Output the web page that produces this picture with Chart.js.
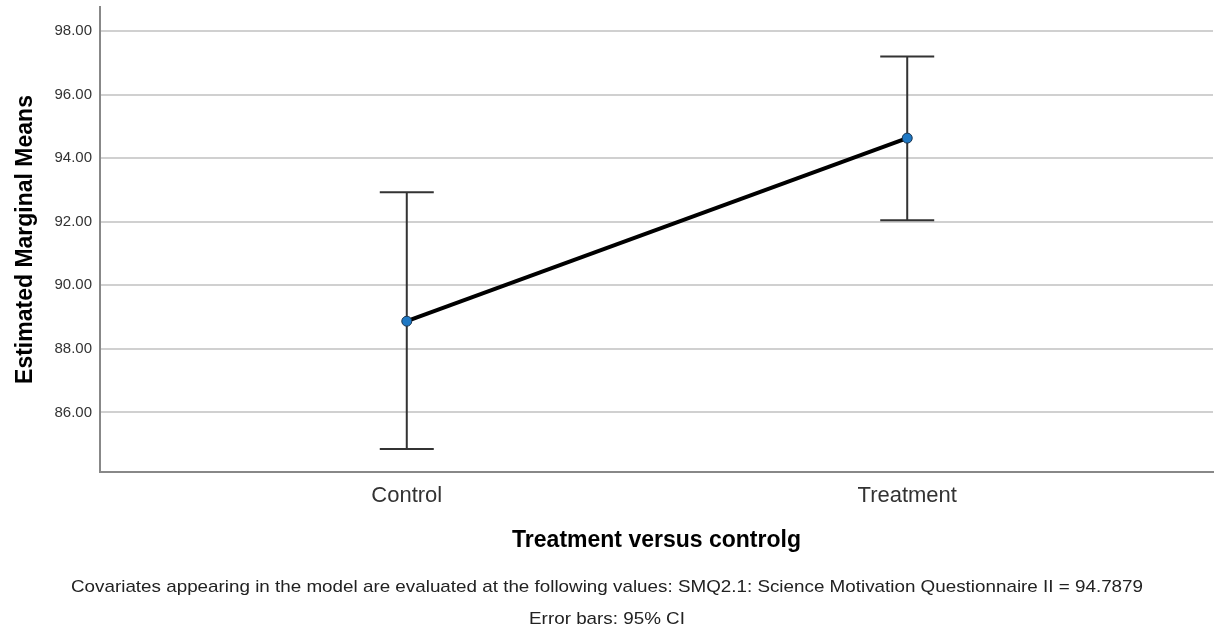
<!DOCTYPE html>
<html>
<head>
<meta charset="utf-8">
<script src="https://cdn.jsdelivr.net/npm/chart.js@4/dist/chart.umd.min.js"></script>
<style>
  html, body { margin: 0; padding: 0; background: #fff; }
  #wrap { width: 1214px; height: 628px; }
</style>
</head>
<body>
<div id="wrap"><canvas id="chart"></canvas></div>
<script>
// values
const groups = ['Control', 'Treatment'];
const means = [88.87, 94.63];
const ciLower = [84.85, 92.05];
const ciUpper = [92.93, 97.20];
const yTicks = [86, 88, 90, 92, 94, 96, 98];
const footNotes = [
    'Covariates appearing in the model are evaluated at the following values: SMQ2.1: Science Motivation Questionnaire II = 94.7879',
    'Error bars: 95% CI'
];

const FONT = "'Liberation Sans', Arial, sans-serif";

// 95% CI whiskers, drawn under the line
const errorBars = {
    id: 'errorBars',
    beforeDatasetsDraw(chart) {
        const {ctx, scales: {x, y}} = chart;
        ctx.save();
        ctx.strokeStyle = '#333';
        ctx.lineWidth = 2;
        groups.forEach((g, i) => {
            const px = x.getPixelForValue(i + 1);
            const top = y.getPixelForValue(ciUpper[i]);
            const bot = y.getPixelForValue(ciLower[i]);
            ctx.beginPath();
            ctx.moveTo(px, top); ctx.lineTo(px, bot);
            ctx.moveTo(px - 27, top); ctx.lineTo(px + 27, top);
            ctx.moveTo(px - 27, bot); ctx.lineTo(px + 27, bot);
            ctx.stroke();
        });
        ctx.restore();
    }
};

// notes under the chart, centred on the page
const footer = {
    id: 'footer',
    afterDraw(chart) {
        const ctx = chart.ctx;
        const cx = chart.width / 2;
        ctx.save();
        ctx.fillStyle = '#222';
        ctx.textAlign = 'center';
        ctx.textBaseline = 'middle';
        ctx.font = '17px ' + FONT;
        const w = ctx.measureText(footNotes[0]).width;
        const sx = 1072 / w;
        ctx.translate(cx, 0);
        ctx.scale(sx, 1);
        ctx.fillText(footNotes[0], 0, 587);
        ctx.fillText(footNotes[1], 0, 619);
        ctx.restore();
    }
};

new Chart(document.getElementById('chart'), {
    type: 'line',
    data: {
        datasets: [{
            data: groups.map((g, i) => ({x: i + 1, y: means[i]})),
            borderColor: '#000',
            borderWidth: 4,
            pointRadius: 5,
            pointBackgroundColor: '#1f78c4',
            pointBorderColor: '#1b3550',
            pointBorderWidth: 1
        }]
    },
    options: {
        responsive: true,
        maintainAspectRatio: false,
        animation: false,
        layout: { autoPadding: false, padding: { top: 7, right: 1, bottom: 74, left: 0 } },
        plugins: { legend: { display: false }, tooltip: { enabled: false } },
        scales: {
            x: {
                type: 'linear',
                min: 0.387,
                max: 2.611,
                afterBuildTicks: (s) => { s.ticks = groups.map((g, i) => ({value: i + 1})); },
                afterFit: (s) => { s.paddingLeft = 0; s.paddingRight = 0; },
                ticks: {
                    callback: (v) => groups[v - 1],
                    font: { family: FONT, size: 22 },
                    color: '#333',
                    padding: 11,
                    maxRotation: 0
                },
                grid: { display: false, drawTicks: false },
                border: { display: true, color: '#888', width: 2 },
                title: {
                    display: true,
                    text: 'Treatment versus controlg',
                    font: { family: FONT, size: 23, weight: 'bold' },
                    color: '#000',
                    padding: { top: 6, bottom: 0 }
                }
            },
            y: {
                min: 84.126,
                max: 98.755,
                afterBuildTicks: (s) => { s.ticks = yTicks.map(v => ({value: v})); },
                afterFit: (s) => { s.width = 100; s.paddingTop = 0; s.paddingBottom = 0; },
                ticks: {
                    callback: (v) => v.toFixed(2),
                    font: { family: FONT, size: 15 },
                    color: '#333',
                    padding: 8
                },
                grid: { color: '#d0d0d0', lineWidth: 2, drawTicks: false },
                border: { display: true, color: '#888', width: 2 },
                title: {
                    display: true,
                    text: 'Estimated Marginal Means',
                    font: { family: FONT, size: 23, weight: 'bold' },
                    color: '#000',
                    padding: { top: 12, bottom: 0 }
                }
            }
        }
    },
    plugins: [errorBars, footer]
});
</script>
</body>
</html>
